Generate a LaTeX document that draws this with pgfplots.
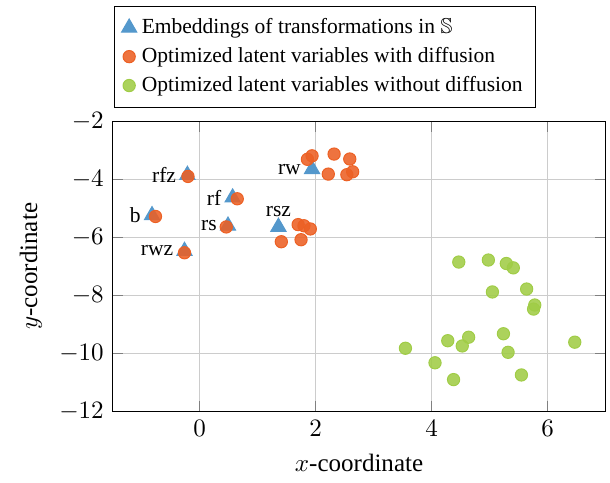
\documentclass[border=0pt]{standalone}
\usepackage{pgfplots}
\pgfplotsset{compat=1.18}
\usepackage{amssymb}
\usepackage{fontspec}
\setmainfont{Liberation Serif}
\definecolor{tblue}{RGB}{84,152,204}
\definecolor{torange}{RGB}{236,96,36}
\definecolor{tgreen}{RGB}{160,204,70}
\newcommand{\lblfont}{\fontsize{8.6}{10}\selectfont}
\begin{document}
\begin{tikzpicture}
\begin{axis}[
  scale only axis, width=197pt, height=116pt,
  xmin=-1.5, xmax=7, ymin=-12, ymax=-2,
  xtick={0,2,4,6}, ytick={-12,-10,-8,-6,-4,-2},
  grid=major, major grid style={gray!40},
  xlabel={$x$-coordinate}, ylabel={$y$-coordinate},
  legend style={at={(0,1)}, anchor=south west, xshift=0.4pt, yshift=5.4pt, font=\lblfont, draw=black, inner ysep=2.9pt},
  legend cell align=left,
]
\addplot[only marks, mark=triangle*, mark size=3.5pt, color=tblue, mark options={draw=tblue, fill=tblue}] coordinates {
(-0.21,-3.85) (-0.82,-5.24) (0.57,-4.63) (0.49,-5.60) (-0.26,-6.47) (1.36,-5.64) (1.94,-3.65)
};
\addlegendentry{Embeddings of transformations in $\mathbb{S}$}
\addplot[only marks, mark=*, mark size=2.45pt, color=torange, mark options={draw=none, fill=torange, fill opacity=0.88}] coordinates {
(-0.20,-3.90) (-0.76,-5.28) (0.65,-4.67) (0.46,-5.64) (-0.26,-6.53)
(1.86,-3.31) (1.94,-3.19) (2.32,-3.13) (2.59,-3.30) (2.22,-3.82) (2.54,-3.84) (2.64,-3.74)
(1.70,-5.56) (1.80,-5.60) (1.91,-5.71) (1.41,-6.15) (1.75,-6.08)
};
\addlegendentry{Optimized latent variables with diffusion}
\addplot[only marks, mark=*, mark size=2.45pt, color=tgreen, mark options={draw=none, fill=tgreen, fill opacity=0.88}] coordinates {
(4.47,-6.85) (4.98,-6.78) (5.29,-6.90) (5.41,-7.05) (5.05,-7.88) (5.64,-7.78)
(5.78,-8.33) (5.76,-8.47) (3.55,-9.82) (4.28,-9.56) (4.64,-9.44) (4.53,-9.74)
(5.24,-9.32) (5.32,-9.96) (6.47,-9.61) (4.06,-10.32) (4.38,-10.90) (5.55,-10.74)
};
\addlegendentry{Optimized latent variables without diffusion\hspace{12pt}}
\node[anchor=east, xshift=-1pt, font=\lblfont] at (axis cs:-0.21,-3.85) {rfz};
\node[anchor=east, xshift=-1pt, font=\lblfont] at (axis cs:-0.82,-5.24) {b};
\node[anchor=east, xshift=-1pt, font=\lblfont] at (axis cs:0.57,-4.63) {rf};
\node[anchor=east, xshift=-1pt, font=\lblfont] at (axis cs:0.49,-5.60) {rs};
\node[anchor=east, xshift=-1pt, font=\lblfont] at (axis cs:-0.26,-6.47) {rwz};
\node[anchor=east, xshift=-1pt, font=\lblfont] at (axis cs:1.94,-3.65) {rw};
\node[anchor=south, yshift=0.5pt, font=\lblfont] at (axis cs:1.36,-5.64) {rsz};
\end{axis}
\path ([xshift=-4.6pt,yshift=-1pt]current bounding box.south west);
\path ([xshift=1.6pt,yshift=2.2pt]current bounding box.north east);
\end{tikzpicture}
\end{document}
